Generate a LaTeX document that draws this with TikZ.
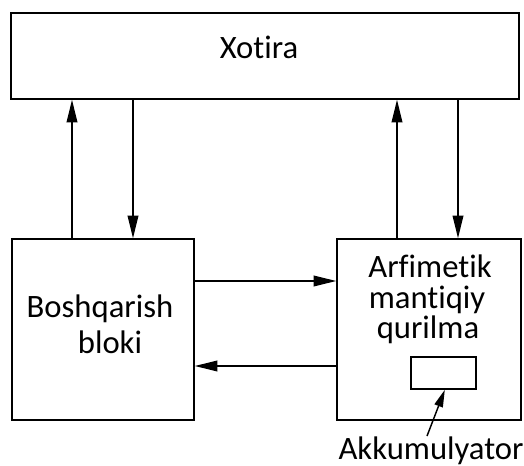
\documentclass[tikz,border=0pt]{standalone}
\usepackage{fontspec}
\setmainfont{Carlito}[Ligatures={NoCommon,NoRare,NoContextual}, RawFeature={-liga;-calt;-clig;-dlig;-rlig}]
\usetikzlibrary{arrows.meta}
\begin{document}
\begin{tikzpicture}[x=0.75pt,y=-0.75pt,
  block/.style={draw, line width=1.1pt, rectangle, inner sep=0pt},
  lbl/.style={anchor=base, inner sep=0pt, font=\fontsize{24.5}{29}\selectfont},
  flow/.style={line width=1.1pt, -{Triangle[length=17pt,width=8pt]}},
  pointer/.style={line width=1.1pt, -{Triangle[length=13pt,width=6.5pt]}}]
\useasboundingbox (0,0) rectangle (524,466);

% blocks
\node[block, minimum width=381pt, minimum height=64.5pt] (mem) at (265,56) {};
\node[block, minimum width=136.5pt, minimum height=135.75pt] (ctl) at (103,329.5) {};
\node[block, minimum width=138pt, minimum height=135.75pt] (alu) at (429,329.5) {};
\node[block, minimum width=48.75pt, minimum height=24pt] (acc) at (443.5,373) {};

% labels
\node[lbl] (memlbl) at (259,59) {Xotira};
\node[lbl] (ctllbla) at (100,317) {Boshqarish};
\node[lbl] (ctllblb) at (110,353) {bloki};
\node[lbl] (alulbla) at (430,277) {Arfimetik};
\node[lbl] (alulblb) at (427,308) {mantiqiy};
\node[lbl] (alulblc) at (428,338) {qurilma};
\node[lbl] (acclbl) at (431,459) {Akkumulyator};

% connector positions
\coordinate (xa) at (72,0);
\coordinate (xb) at (133,0);
\coordinate (xc) at (397,0);
\coordinate (xd) at (458,0);
\coordinate (ya) at (0,281);
\coordinate (yb) at (0,366);

% connectors
\draw[flow] (ctl.north -| xa) -- (mem.south -| xa);
\draw[flow] (mem.south -| xb) -- (ctl.north -| xb);
\draw[flow] (alu.north -| xc) -- (mem.south -| xc);
\draw[flow] (mem.south -| xd) -- (alu.north -| xd);
\draw[flow] (ctl.east |- ya) -- (alu.west |- ya);
\draw[flow] (alu.west |- yb) -- (ctl.east |- yb);
\draw[pointer] ([xshift=-3pt]acclbl.north) -- ([xshift=1pt]acc.south);
\end{tikzpicture}
\end{document}
